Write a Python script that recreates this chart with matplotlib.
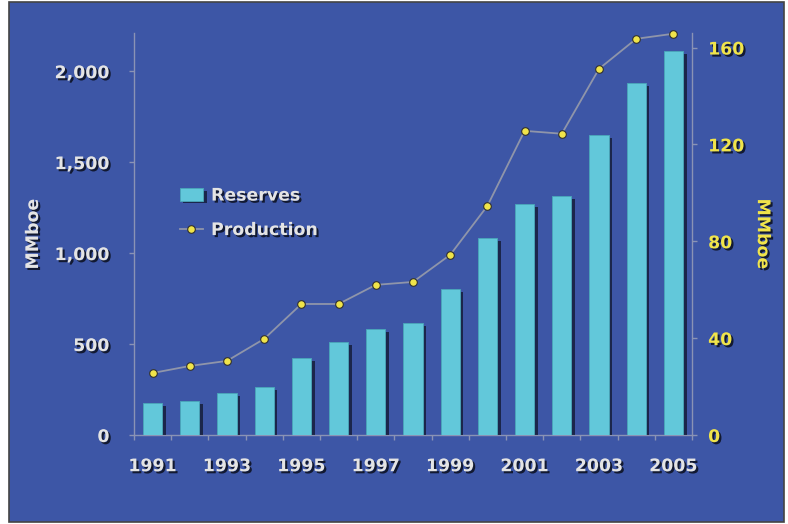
import matplotlib.pyplot as plt
import matplotlib.patheffects as pe
from matplotlib.patches import Rectangle

years = list(range(1991, 2006))
reserves = [176, 187, 231, 264, 423, 511, 582, 615, 802, 1082, 1269, 1313, 1648, 1934, 2110]
production = [25.6, 28.5, 30.6, 39.7, 54.1, 54.1, 62.0, 63.2, 74.4, 94.6, 125.6, 124.4, 151.2, 163.6, 165.7]
left_ticks = [0, 500, 1000, 1500, 2000]
right_ticks = [0, 40, 80, 120, 160]

bg = '#3d56a6'
bar_color = '#62c8da'
txt = '#e4e4e4'
yel = '#f0e44a'
spine = '#8a93b5'
fs = 12.5

plt.rcParams['font.family'] = ['DejaVu Sans']
plt.rcParams['font.weight'] = 'bold'

shadow = [pe.withSimplePatchShadow(offset=(1.5, -1.5), shadow_rgbFace='black', alpha=0.7)]

fig = plt.figure(figsize=(7.88, 5.24), dpi=100, facecolor='white')
fig.patches.append(Rectangle((9 / 788, 1 - 522 / 524), 775 / 788, 520 / 524,
                             transform=fig.transFigure, facecolor=bg,
                             edgecolor='#444444', linewidth=1.2, zorder=-10))

ax = fig.add_axes([134 / 788, 1 - 435 / 524, 558 / 788, 402 / 524])
ax.set_facecolor('none')
bars = ax.bar(years, reserves, width=0.52, color=bar_color, edgecolor='#4aa8ba',
              linewidth=0.6, label='Reserves', zorder=3)
for b in bars:
    b.set_path_effects([pe.SimplePatchShadow(offset=(2.5, -2), shadow_rgbFace='black', alpha=0.55),
                        pe.Normal()])
ax.set_xlim(1990.5, 2005.5)
ax.set_ylim(0, 2210)
ax.set_yticks(left_ticks)
ax.set_yticklabels([f'{v:,}' for v in left_ticks])
# year labels sit under the bars, tick marks fall between categories
ax.set_xticks(years)
ax.set_xticklabels([str(y) if y % 2 == 1 else '' for y in years])
ax.set_xticks([y + 0.5 for y in [1990] + years], minor=True)

ax2 = ax.twinx()
ax2.set_ylim(0, 166)
ax2.set_yticks(right_ticks)
line, = ax2.plot(years, production, color='#8f95aa', linewidth=1.3, marker='o',
                 markersize=5.5, markerfacecolor=yel, markeredgecolor='#303030',
                 markeredgewidth=0.8, label='Production', clip_on=False, zorder=4)

for a in (ax, ax2):
    a.spines['top'].set_visible(False)
    for s in ('left', 'right', 'bottom'):
        a.spines[s].set_color(spine)
        a.spines[s].set_linewidth(1.0)
    a.tick_params(colors=spine, length=3.6, width=1)

ax.spines['right'].set_visible(False)
ax2.spines['left'].set_visible(False)
ax2.spines['bottom'].set_visible(False)
ax.tick_params(axis='x', which='major', length=0, pad=16)
ax.tick_params(axis='x', which='minor', length=3.6, width=1, color=spine)
ax.tick_params(axis='y', pad=14)
ax2.tick_params(axis='y', pad=8)

for lab in ax.get_xticklabels() + ax.get_yticklabels():
    lab.set_color(txt)
    lab.set_fontsize(fs)
    lab.set_fontweight('bold')
    lab.set_path_effects(shadow)
for lab in ax2.get_yticklabels():
    lab.set_color(yel)
    lab.set_fontsize(fs)
    lab.set_fontweight('bold')
    lab.set_path_effects(shadow)

ax.set_ylabel('MMboe', color=txt, fontsize=fs, fontweight='bold', va='center',
              path_effects=shadow)
ax.yaxis.set_label_coords(-0.181, 0.5)
ax2.set_ylabel('MMboe', color=yel, fontsize=fs, fontweight='bold', rotation=270,
               va='center', path_effects=shadow)
ax2.yaxis.set_label_coords(1.127, 0.5)

leg = ax.legend(handles=[bars, line], loc='upper left', bbox_to_anchor=(0.082, 0.618),
                frameon=False, fontsize=fs, handlelength=1.35, handletextpad=0.45,
                labelspacing=0.95, borderpad=0, borderaxespad=0)
for t in leg.get_texts():
    t.set_color(txt)
    t.set_fontweight('bold')
    t.set_path_effects(shadow)

fig.savefig('out.png', dpi=100, facecolor='white')
